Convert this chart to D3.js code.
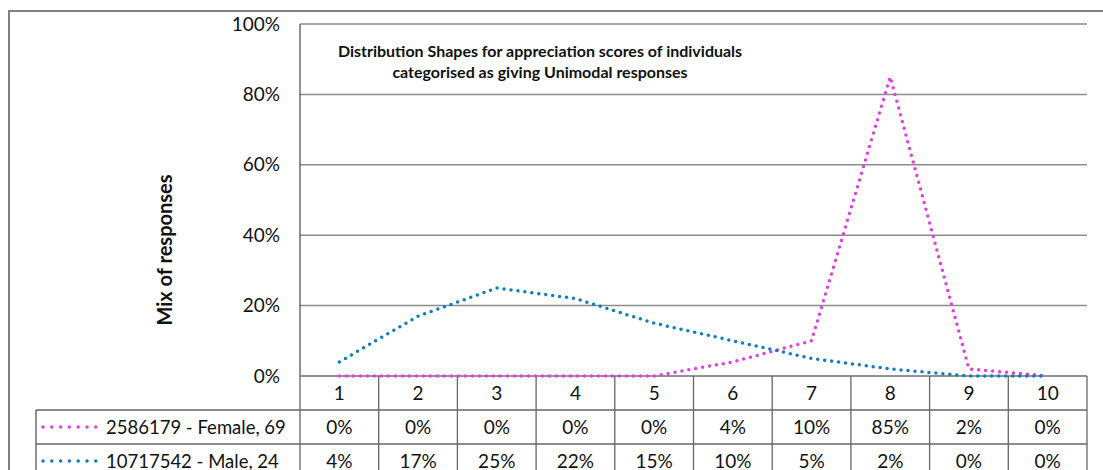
<!DOCTYPE html>
<html lang="en">
<head>
<meta charset="UTF-8">
<title>Distribution Shapes</title>
<script src="https://cdn.jsdelivr.net/npm/d3@7"></script>
<style>
  body { margin: 0; background: #fff; }
  text { font-family: Lato, "Open Sans", sans-serif; fill: #111; }
</style>
</head>
<body>
<svg id="svg"></svg>
<script>
var categories = ["1", "2", "3", "4", "5", "6", "7", "8", "9", "10"];
var femaleValues = [0, 0, 0, 0, 0, 4, 10, 85, 2, 0];
var maleValues = [4, 17, 25, 22, 15, 10, 5, 2, 0, 0];
var seriesNames = ["2586179 - Female, 69", "10717542 - Male, 24"];
var seriesColors = ["#e040e0", "#0c7dc2"];
var yTicks = [0, 20, 40, 60, 80, 100];
var titleLines = ["Distribution Shapes for appreciation scores of individuals",
                  "categorised as giving Unimodal responses"];

var w = 1103, h = 470;
var plotLeft = 300, plotRight = 1087, plotTop = 24, plotBottom = 376;
var rowH = 34, legendLeft = 36;

var svg = d3.select("#svg").attr("width", w).attr("height", h);

var x = d3.scaleBand().domain(categories).range([plotLeft, plotRight]);
var y = d3.scaleLinear().domain([0, 100]).range([plotBottom, plotTop]);
var bw = x.bandwidth();

// outer chart frame
svg.append("rect").attr("x", 9).attr("y", 11).attr("width", w + 20).attr("height", h)
  .attr("fill", "none").attr("stroke", "#7f7f7f").attr("stroke-width", 2);

// gridlines
svg.append("g").selectAll("line").data(yTicks).enter().append("line")
  .attr("x1", plotLeft).attr("x2", plotRight)
  .attr("y1", function(d) { return y(d); }).attr("y2", function(d) { return y(d); })
  .attr("stroke", "#8c8c8c").attr("stroke-width", 1.5);

// y tick labels
svg.append("g").selectAll("text").data(yTicks).enter().append("text")
  .attr("x", 280).attr("y", function(d) { return y(d); })
  .attr("dy", "0.35em").attr("text-anchor", "end")
  .style("font-size", "19px")
  .text(function(d) { return d + "%"; });

// left axis line
svg.append("line").attr("x1", plotLeft).attr("x2", plotLeft).attr("y1", plotTop).attr("y2", plotBottom)
  .attr("stroke", "#555").attr("stroke-width", 1.3);

// y title
svg.append("text").attr("transform", "translate(172,250) rotate(-90)")
  .attr("text-anchor", "middle").style("font-size", "20px").style("font-weight", "bold")
  .text("Mix of responses");

// chart title
svg.append("g").selectAll("text").data(titleLines).enter().append("text")
  .attr("x", 540).attr("y", function(d, i) { return 57 + i * 21; })
  .attr("text-anchor", "middle").style("font-size", "16px").style("font-weight", "bold")
  .text(function(d) { return d; });

// data table
var table = svg.append("g");
var rows = [femaleValues, maleValues];
var tableBottom = plotBottom + rowH * 3;
[plotBottom, plotBottom + rowH, plotBottom + rowH * 2].forEach(function(yy, i) {
  table.append("line").attr("x1", i === 0 ? plotLeft : legendLeft).attr("x2", plotRight)
    .attr("y1", yy).attr("y2", yy).attr("stroke", i === 0 ? "#8c8c8c" : "#666").attr("stroke-width", 1.5);
});
var vx = categories.map(function(c) { return x(c); }).concat([plotRight]);
table.selectAll(".v").data(vx).enter().append("line")
  .attr("x1", function(d) { return d; }).attr("x2", function(d) { return d; })
  .attr("y1", plotBottom).attr("y2", tableBottom)
  .attr("stroke", "#666").attr("stroke-width", 1.3);
table.append("line").attr("x1", legendLeft).attr("x2", legendLeft)
  .attr("y1", plotBottom + rowH).attr("y2", tableBottom).attr("stroke", "#555").attr("stroke-width", 1.3);

// category labels
table.selectAll(".cat").data(categories).enter().append("text")
  .attr("x", function(d) { return x(d) + bw / 2; }).attr("y", plotBottom + rowH / 2)
  .attr("dy", "0.36em").attr("text-anchor", "middle").style("font-size", "19px")
  .text(function(d) { return d; });

// value cells + legend
rows.forEach(function(vals, r) {
  var cy = plotBottom + rowH * (r + 1) + rowH / 2;
  table.append("g").selectAll("text").data(vals).enter().append("text")
    .attr("x", function(d, i) { return x(categories[i]) + bw / 2; }).attr("y", cy)
    .attr("dy", "0.36em").attr("text-anchor", "middle").style("font-size", "19px")
    .text(function(d) { return d + "%"; });
  table.append("line").attr("x1", 43).attr("x2", 96).attr("y1", cy).attr("y2", cy)
    .attr("stroke", seriesColors[r]).attr("stroke-width", 3.5)
    .attr("stroke-linecap", "round").attr("stroke-dasharray", "0,8.8");
  table.append("text").attr("x", 106).attr("y", cy).attr("dy", "0.36em")
    .style("font-size", "18.5px").text(seriesNames[r]);
});

// series lines
var line = d3.line()
  .x(function(d, i) { return x(categories[i]) + bw / 2; })
  .y(function(d) { return y(d); });
rows.forEach(function(vals, r) {
  svg.append("path").datum(vals).attr("d", line)
    .attr("fill", "none").attr("stroke", seriesColors[r]).attr("stroke-width", 3.5)
    .attr("stroke-linecap", "round").attr("stroke-dasharray", "0,7");
});
</script>
</body>
</html>
